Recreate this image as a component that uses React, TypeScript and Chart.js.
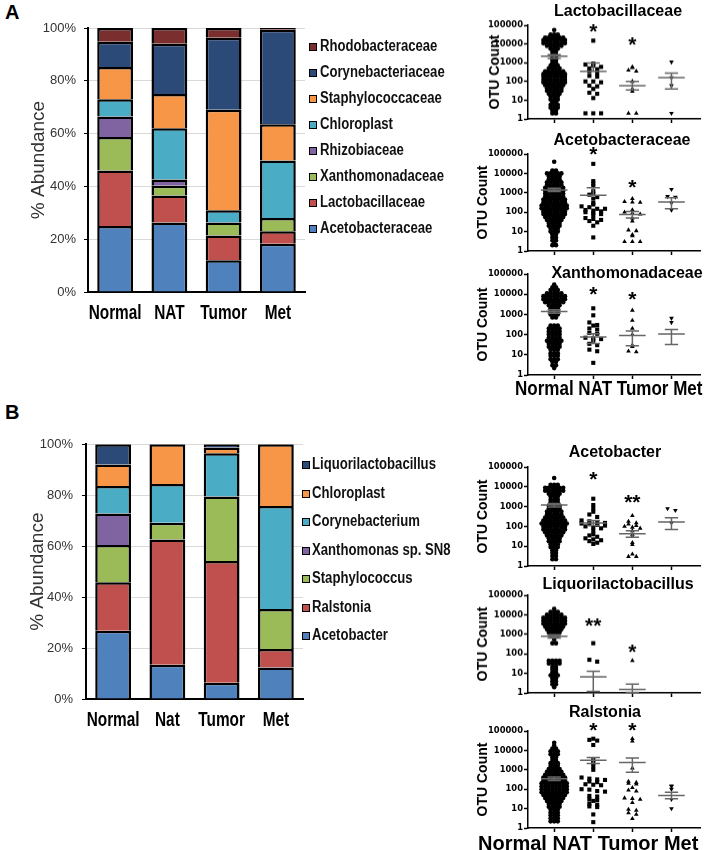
import React, { useEffect, useRef } from 'react';
import { Chart, registerables } from 'chart.js';
Chart.register(...registerables);

const SANS = 'Arial, "Liberation Sans", Helvetica, sans-serif';
const WIDE = '"DejaVu Sans", Verdana, sans-serif';
const CONDENSE = 0.82;

// ---------------- Panel A: stacked bars (family level) ----------------
const A_CATEGORIES = ['Normal', 'NAT', 'Tumor', 'Met'];
const A_SERIES = ['Acetobacteraceae', 'Lactobacillaceae', 'Xanthomonadaceae', 'Rhizobiaceae', 'Chloroplast', 'Staphylococcaceae', 'Corynebacteriaceae', 'Rhodobacteraceae'];
const A_ACETOBACTERACEAE = [25, 26.3, 12, 18.3];
const A_LACTOBACILLACEAE = [21, 10.3, 9.4, 4.7];
const A_XANTHOMONADACEAE = [12.7, 3.6, 4.9, 5];
const A_RHIZOBIACEAE = [7.8, 2.4, 0, 0];
const A_CHLOROPLAST = [6.5, 19.4, 4.7, 21.8];
const A_STAPHYLOCOCCACEAE = [12.2, 13, 38, 13.7];
const A_CORYNEBACTERIACEAE = [9.6, 19, 27.3, 35.8];
const A_RHODOBACTERACEAE = [5.2, 6, 3.7, 0.7];
const A_COLORS = ['#4F81BD', '#C0504D', '#9BBB59', '#8064A2', '#4BACC6', '#F79646', '#2B4A78', '#7A2E2E'];

// ---------------- Panel B: stacked bars (genus level) ----------------
const B_CATEGORIES = ['Normal', 'Nat', 'Tumor', 'Met'];
const B_SERIES = ['Acetobacter', 'Ralstonia', 'Staphylococcus', 'Xanthomonas sp. SN8', 'Corynebacterium', 'Chloroplast', 'Liquorilactobacillus'];
const B_ACETOBACTER = [26.8, 13.4, 6.4, 12.4];
const B_RALSTONIA = [19, 49.2, 47.8, 7.2];
const B_STAPHYLOCOCCUS = [14.7, 6.6, 25.3, 15.7];
const B_XANTHOMONAS = [12.3, 0, 0, 0];
const B_CORYNEBACTERIUM = [10.8, 15.2, 17, 40.5];
const B_CHLOROPLAST = [8.5, 15.6, 2.2, 24.2];
const B_LIQUORILACTOBACILLUS = [7.9, 0, 1.3, 0];
const B_COLORS = ['#4F81BD', '#C0504D', '#9BBB59', '#8064A2', '#4BACC6', '#F79646', '#2B4A78'];

// ---------------- Dot plots (OTU counts) ----------------
const DOT_CATEGORIES = ['Normal', 'NAT', 'Tumor', 'Met'];
const Y_TICKS = [1, 10, 100, 1000, 10000, 100000];

// Normal groups as [value, number of samples at that level]
const A1_NORMAL: [number, number][] = [[56000,1],[32000,3],[22000,6],[16000,7],[11000,7],[8000,5],[5600,3],[4000,2],[2800,2],[2000,2],[1400,2],[1000,2],[700,3],[500,4],[350,6],[250,7],[180,7],[125,7],[90,7],[63,6],[45,5],[32,5],[22,4],[16,3],[11,3],[8,2],[5.6,3],[4,3],[2.8,2],[2,2]];
const A1_NAT = [15000, 900, 800, 700, 600, 500, 450, 350, 300, 200, 180, 100, 100, 90, 60, 55, 40, 25, 22, 13, 2, 2, 2];
const A1_TUMOR = [600, 550, 400, 350, 100, 40, 30, 2, 2];
const A1_MET = [1100, 160, 60, 2];
const A1_MEAN = [2200, 350, 60, 160];
const A1_HI = [2700, 950, 100, 280];
const A1_LO = [1700, null, 35, 40];
const A1_STARS = ['', '*', '*', ''];
const A1_STAR_AT = [0, 69000, 15000, 0];

const A2_NORMAL: [number, number][] = [[40000,1],[14000,2],[10000,5],[7000,4],[5000,4],[3500,5],[2500,5],[1800,6],[1250,6],[900,6],[630,6],[450,7],[320,7],[220,8],[160,8],[110,7],[80,7],[56,6],[40,5],[28,4],[20,4],[14,3],[10,3],[7,2],[5,2],[3.5,2],[2.5,1],[2,2]];
const A2_NAT = [31000, 4000, 3000, 2200, 1200, 900, 800, 600, 500, 300, 250, 200, 180, 150, 150, 130, 120, 110, 100, 90, 80, 70, 50, 45, 40, 35, 30, 20, 5];
const A2_TUMOR = [500, 350, 330, 320, 130, 100, 90, 80, 50, 35, 12, 11, 7, 6, 3, 3, 3];
const A2_MET = [1500, 650, 600, 300, 130];
const A2_MEAN = [1400, 750, 75, 340];
const A2_HI = [1700, 1800, 110, 550];
const A2_LO = [1150, null, 50, 150];
const A2_STARS = ['', '*', '*', ''];
const A2_STAR_AT = [0, 150000, 3100, 0];

const A3_NORMAL: [number, number][] = [[30000,1],[22000,2],[16000,3],[11000,5],[8000,7],[5600,7],[4000,6],[2800,4],[2000,3],[1400,3],[1000,3],[700,2],[280,3],[200,4],[140,4],[100,4],[70,4],[50,5],[35,4],[25,4],[18,3],[12,3],[9,3],[6,3],[4.5,2],[3,2],[2.2,1]];
const A3_NAT = [2000, 900, 400, 300, 280, 200, 180, 120, 110, 70, 65, 60, 50, 35, 30, 18, 15, 4];
const A3_TUMOR = [1600, 500, 200, 100, 30, 25, 15, 14];
const A3_MET = [650, 400];
const A3_MEAN = [1400, 75, 90, 107];
const A3_HI = [1700, 110, 150, 180];
const A3_LO = [1150, 36, 28, 32];
const A3_STARS = ['', '*', '*', ''];
const A3_STAR_AT = [0, 15000, 9000, 0];

const B1_NORMAL: [number, number][] = [[28000,1],[12500,3],[9000,6],[6300,6],[4500,4],[3200,3],[2200,3],[1600,3],[1100,4],[800,4],[560,5],[400,5],[280,6],[200,7],[140,8],[100,7],[70,7],[50,6],[35,5],[25,4],[18,4],[12.5,3],[9,3],[6.3,2],[4.5,2],[3.2,2],[2.2,2]];
const B1_NAT = [2500, 1200, 800, 550, 400, 300, 200, 180, 160, 150, 140, 130, 120, 110, 100, 90, 80, 60, 40, 35, 30, 25, 22, 20, 18, 15, 13];
const B1_TUMOR = [350, 180, 150, 130, 110, 100, 90, 80, 60, 40, 30, 15, 12, 4, 3, 3];
const B1_MET = [800, 650, 150];
const B1_MEAN = [1200, 150, 42, 165];
const B1_HI = [1450, 200, 60, 270];
const B1_LO = [950, 110, 28, 70];
const B1_STARS = ['', '*', '**', ''];
const B1_STAR_AT = [0, 38000, 2500, 0];

const B2_NORMAL: [number, number][] = [[20000,1],[14000,3],[10000,5],[7000,7],[5000,7],[3500,7],[2500,6],[1800,5],[1250,4],[900,3],[560,1],[350,2],[45,4],[32,4],[22,2],[16,2],[11,2],[8,3],[5.6,2],[4,2],[2.8,2],[2,1]];
const B2_NAT = [350, 50, 40];
const B2_TUMOR = [45];
const B2_MET: number[] = [];
const B2_MEAN = [800, 6.6, 1.5, null];
const B2_HI = [950, 13, 2.8, null];
const B2_LO = [650, 1.2, 1.05, null];
const B2_STARS = ['', '**', '*', ''];
const B2_STAR_AT = [0, 4300, 190, 0];

const B3_NORMAL: [number, number][] = [[25000,1],[18000,1],[12500,2],[9000,3],[6300,3],[4500,2],[3200,2],[2200,3],[1600,3],[1100,4],[800,5],[560,6],[400,7],[280,7],[200,8],[140,8],[100,8],[70,8],[50,7],[35,6],[25,5],[18,4],[12.5,4],[9,3],[6.3,3],[4.5,3],[3.2,3],[2.2,3]];
const B3_NAT = [40000, 35000, 32000, 19000, 3200, 2200, 1500, 1000, 400, 350, 320, 300, 250, 230, 180, 170, 160, 100, 95, 80, 75, 45, 42, 30, 28, 25, 18, 16, 13, 12, 5, 2];
const B3_TUMOR = [40000, 30000, 1200, 250, 220, 200, 180, 120, 90, 80, 35, 33, 30, 20, 9, 8, 6, 5, 3];
const B3_MET = [150, 140, 100, 30, 10];
const B3_MEAN = [350, 3100, 2350, 47];
const B3_HI = [420, 4300, 4000, 70];
const B3_LO = [280, 2100, 750, 32];
const B3_STARS = ['', '*', '*', ''];
const B3_STAR_AT = [0, 170000, 170000, 0];

type Plot = {
  title: string; normal: [number, number][]; nat: number[]; tumor: number[]; met: number[];
  mean: (number | null)[]; hi: (number | null)[]; lo: (number | null)[]; stars: string[]; starAt: number[];
  top: number; bottom: number; tx: number; ty: number; yTitleX: number;
};

const DOT_PLOTS: Plot[] = [
  { title: 'Lactobacillaceae', normal: A1_NORMAL, nat: A1_NAT, tumor: A1_TUMOR, met: A1_MET, mean: A1_MEAN, hi: A1_HI, lo: A1_LO, stars: A1_STARS, starAt: A1_STAR_AT, top: 25.3, bottom: 118.7, tx: 618, ty: 11, yTitleX: 495 },
  { title: 'Acetobacteraceae', normal: A2_NORMAL, nat: A2_NAT, tumor: A2_TUMOR, met: A2_MET, mean: A2_MEAN, hi: A2_HI, lo: A2_LO, stars: A2_STARS, starAt: A2_STAR_AT, top: 154, bottom: 251, tx: 622, ty: 140, yTitleX: 483 },
  { title: 'Xanthomonadaceae', normal: A3_NORMAL, nat: A3_NAT, tumor: A3_TUMOR, met: A3_MET, mean: A3_MEAN, hi: A3_HI, lo: A3_LO, stars: A3_STARS, starAt: A3_STAR_AT, top: 274, bottom: 375, tx: 627, ty: 273, yTitleX: 483 },
  { title: 'Acetobacter', normal: B1_NORMAL, nat: B1_NAT, tumor: B1_TUMOR, met: B1_MET, mean: B1_MEAN, hi: B1_HI, lo: B1_LO, stars: B1_STARS, starAt: B1_STAR_AT, top: 466.7, bottom: 565.7, tx: 615, ty: 452, yTitleX: 483 },
  { title: 'Liquorilactobacillus', normal: B2_NORMAL, nat: B2_NAT, tumor: B2_TUMOR, met: B2_MET, mean: B2_MEAN, hi: B2_HI, lo: B2_LO, stars: B2_STARS, starAt: B2_STAR_AT, top: 595, bottom: 692.7, tx: 618, ty: 584, yTitleX: 483 },
  { title: 'Ralstonia', normal: B3_NORMAL, nat: B3_NAT, tumor: B3_TUMOR, met: B3_MET, mean: B3_MEAN, hi: B3_HI, lo: B3_LO, stars: B3_STARS, starAt: B3_STAR_AT, top: 731, bottom: 828.3, tx: 605, ty: 712, yTitleX: 483 },
];

// ---------- layout helpers (dot-plot spreading, deterministic) ----------
function rowPoints(pairs: [number, number][], cat: number, dx: number) {
  const pts: { x: number; y: number }[] = [];
  for (const [v, n] of pairs) for (let k = 0; k < n; k++) pts.push({ x: cat + (k - (n - 1) / 2) * dx, y: v });
  return pts;
}
function binPoints(values: number[], cat: number, bin: number, dx: number) {
  const groups = new Map<number, number[]>();
  values.forEach((v) => {
    const b = Math.round(Math.log10(v) / bin);
    if (!groups.has(b)) groups.set(b, []);
    groups.get(b)!.push(v);
  });
  const pts: { x: number; y: number }[] = [];
  groups.forEach((vs) => vs.forEach((v, k) => pts.push({ x: cat + (k - (vs.length - 1) / 2) * dx, y: v })));
  return pts;
}

type BarProps = {
  box: { left: number; top: number; width: number; height: number };
  area: { left: number; right: number; top: number; bottom: number };
  categories: string[]; series: string[]; values: number[][]; colors: string[];
  yTitleX: number; tickRight: number; labelY: number;
};

function StackedBar(p: BarProps) {
  const ref = useRef<HTMLCanvasElement>(null);
  useEffect(() => {
    const padL = p.yTitleX - p.box.left - (19 * 1.2) / 2;
    const yW = p.area.left - p.box.left - padL;
    const xH = p.box.top + p.box.height - p.area.bottom;
    // condensed category labels drawn at the x scale's tick positions
    const catLabels = {
      id: 'catLabels',
      afterDraw(chart: any) {
        const { ctx } = chart;
        const xs = chart.scales.x;
        ctx.save();
        ctx.fillStyle = '#000';
        ctx.font = 'bold 20.5px ' + SANS;
        ctx.textAlign = 'center';
        ctx.textBaseline = 'middle';
        p.categories.forEach((c, i) => {
          ctx.save();
          ctx.translate(xs.getPixelForTick(i), p.labelY - p.box.top);
          ctx.scale(0.75, 1);
          ctx.fillText(c, 0, 0);
          ctx.restore();
        });
        ctx.restore();
      },
    };
    const chart = new Chart(ref.current!, {
      type: 'bar',
      data: {
        labels: p.categories,
        datasets: p.series.map((s, k) => ({
          label: s,
          data: p.values[k].map((v) => (v > 0 ? v : null)),
          backgroundColor: p.colors[k],
          borderColor: '#000',
          borderWidth: 2.5,
          barPercentage: 0.66,
          categoryPercentage: 1,
        })),
      },
      options: {
        animation: false,
        responsive: false,
        events: [],
        layout: { padding: { left: padL, right: p.box.left + p.box.width - p.area.right, top: p.area.top - p.box.top, bottom: 0 } },
        plugins: { legend: { display: false }, tooltip: { enabled: false } },
        scales: {
          x: {
            stacked: true,
            grid: { display: false },
            border: { display: true, color: '#000', width: 2 },
            ticks: { display: false },
            afterFit: (s: any) => { s.height = xH; },
          },
          y: {
            stacked: true, min: 0, max: 100,
            ticks: { stepSize: 20, callback: (v: any) => v + '%', color: '#333', font: { family: SANS, size: 13 }, padding: p.area.left - 4 - p.tickRight },
            grid: { color: '#d9d9d9', lineWidth: 1, tickColor: '#000', tickLength: 4 },
            border: { display: true, color: '#000', width: 2 },
            title: { display: true, text: '% Abundance', color: '#333', font: { family: SANS, size: 19 }, padding: 0 },
            afterFit: (s: any) => { s.width = yW; },
          },
        },
      } as any,
      plugins: [catLabels],
    });
    return () => chart.destroy();
  }, []);
  return <canvas ref={ref} width={p.box.width} height={p.box.height} style={{ position: 'absolute', left: p.box.left, top: p.box.top, width: p.box.width, height: p.box.height }} />;
}

const SC_LEFT = 440;
const SC_WIDTH = 268;
const AXIS_X = 528;
const AXIS_RIGHT = 700;

function DotPlot({ plot }: { plot: Plot }) {
  const ref = useRef<HTMLCanvasElement>(null);
  const padT = 24;
  const height = plot.bottom - plot.top + 32;
  useEffect(() => {
    const padL = plot.yTitleX - SC_LEFT - (14 * 1.2) / 2;
    const yW = AXIS_X - SC_LEFT - padL;
    const summary = {
      id: 'summary',
      afterDatasetsDraw(chart: any) {
        const { ctx } = chart;
        const x = chart.scales.x, y = chart.scales.y;
        const unit = x.getPixelForValue(1) - x.getPixelForValue(0);
        ctx.save();
        ctx.strokeStyle = '#666';
        ctx.lineWidth = 1.5;
        for (let i = 0; i < 4; i++) {
          const m = plot.mean[i];
          if (m == null) continue;
          const cx = x.getPixelForValue(i);
          const ym = y.getPixelForValue(m);
          const half = unit * 0.34, cap = unit * 0.17;
          const h = plot.hi[i], l = plot.lo[i];
          const yh = h != null ? y.getPixelForValue(h) : ym;
          const yl = l != null ? y.getPixelForValue(l) : ym;
          ctx.beginPath();
          ctx.moveTo(cx - half, ym); ctx.lineTo(cx + half, ym);
          ctx.moveTo(cx, yh); ctx.lineTo(cx, yl);
          if (h != null) { ctx.moveTo(cx - cap, yh); ctx.lineTo(cx + cap, yh); }
          if (l != null) { ctx.moveTo(cx - cap, yl); ctx.lineTo(cx + cap, yl); }
          ctx.stroke();
        }
        ctx.fillStyle = '#000';
        ctx.font = 'bold 21px ' + SANS;
        ctx.textAlign = 'center';
        ctx.textBaseline = 'middle';
        for (let i = 0; i < 4; i++) {
          if (!plot.stars[i]) continue;
          ctx.fillText(plot.stars[i], x.getPixelForValue(i), y.getPixelForValue(plot.starAt[i]) + 21 * 0.22);
        }
        ctx.restore();
      },
    };
    const base = { backgroundColor: '#000', borderColor: '#000', borderWidth: 0, pointBorderWidth: 0 };
    const chart = new Chart(ref.current!, {
      type: 'scatter',
      data: {
        datasets: [
          { ...base, data: rowPoints(plot.normal, 0, 0.092), pointStyle: 'circle', pointRadius: 2.3 },
          { ...base, data: binPoints(plot.nat, 1, 0.15, 0.2), pointStyle: 'rect', pointRadius: 2.9 },
          { ...base, data: binPoints(plot.tumor, 2, 0.15, 0.2), pointStyle: 'triangle', pointRadius: 2.7 },
          { ...base, data: binPoints(plot.met, 3, 0.15, 0.2), pointStyle: 'triangle', pointRotation: 180, pointRadius: 2.7 },
        ],
      },
      options: {
        animation: false,
        responsive: false,
        events: [],
        layout: { padding: { left: padL, right: SC_LEFT + SC_WIDTH - AXIS_RIGHT, top: padT, bottom: 2 } },
        plugins: { legend: { display: false }, tooltip: { enabled: false } },
        scales: {
          x: {
            type: 'linear', min: -0.67, max: 3.73,
            afterBuildTicks: (s: any) => { s.ticks = [0, 1, 2, 3].map((v) => ({ value: v })); },
            ticks: { display: false },
            grid: { display: true, drawOnChartArea: false, drawTicks: true, tickLength: 4, tickColor: '#000', tickWidth: 1.5 },
            border: { display: true, color: '#000', width: 1.5 },
            afterFit: (s: any) => { s.height = 6; },
          },
          y: {
            type: 'logarithmic', min: 1, max: 100000,
            afterBuildTicks: (s: any) => { s.ticks = Y_TICKS.map((v) => ({ value: v })); },
            ticks: { callback: (v: any) => String(v), color: '#000', font: { family: WIDE, size: 8.4, weight: 'bold' }, padding: 1, autoSkip: false },
            grid: { display: true, drawOnChartArea: false, drawTicks: true, tickLength: 4, tickColor: '#000', tickWidth: 1.5 },
            border: { display: true, color: '#000', width: 1.5 },
            title: { display: true, text: 'OTU Count', color: '#000', font: { family: SANS, size: 14, weight: 'bold' }, padding: 0 },
            afterFit: (s: any) => { s.width = yW; },
          },
        },
      } as any,
      plugins: [summary],
    });
    return () => chart.destroy();
  }, []);
  return (
    <>
      <canvas ref={ref} width={SC_WIDTH} height={height} style={{ position: 'absolute', left: SC_LEFT, top: plot.top - padT, width: SC_WIDTH, height }} />
      <div style={{ position: 'absolute', left: plot.tx, top: plot.ty, transform: 'translate(-50%, -50%)', font: 'bold 16px ' + SANS, whiteSpace: 'nowrap', color: '#000', lineHeight: '18px' }}>{plot.title}</div>
    </>
  );
}

function Legend({ items, colors, boxLeft, textLeft, firstY, step }: { items: string[]; colors: string[]; boxLeft: number; textLeft: number; firstY: number; step: number }) {
  return (
    <>
      {items.map((name, i) => (
        <React.Fragment key={name}>
          <div style={{ position: 'absolute', left: boxLeft, top: firstY + i * step - 4, width: 8, height: 8, boxSizing: 'border-box', border: '1.5px solid #000', background: colors[i] }} />
          <div style={{ position: 'absolute', left: textLeft, top: firstY + i * step - 10, height: 20, lineHeight: '20px', font: 'bold 16px ' + SANS, color: '#111', whiteSpace: 'nowrap', transform: `scaleX(${CONDENSE})`, transformOrigin: 'left center' }}>{name}</div>
        </React.Fragment>
      ))}
    </>
  );
}

export default function App() {
  const aValues = [A_ACETOBACTERACEAE, A_LACTOBACILLACEAE, A_XANTHOMONADACEAE, A_RHIZOBIACEAE, A_CHLOROPLAST, A_STAPHYLOCOCCACEAE, A_CORYNEBACTERIACEAE, A_RHODOBACTERACEAE];
  const bValues = [B_ACETOBACTER, B_RALSTONIA, B_STAPHYLOCOCCUS, B_XANTHOMONAS, B_CORYNEBACTERIUM, B_CHLOROPLAST, B_LIQUORILACTOBACILLUS];
  return (
    <div style={{ position: 'absolute', left: 0, top: 0, width: 708, height: 850, background: '#fff', overflow: 'hidden', fontFamily: SANS }}>
      <div style={{ position: 'absolute', left: 5, top: 1, font: 'bold 20px ' + SANS }}>A</div>
      <div style={{ position: 'absolute', left: 5, top: 401, font: 'bold 20px ' + SANS }}>B</div>
      <StackedBar box={{ left: 0, top: 0, width: 310, height: 340 }} area={{ left: 88, right: 305, top: 28, bottom: 292 }} categories={A_CATEGORIES} series={A_SERIES} values={aValues} colors={A_COLORS} yTitleX={39} tickRight={76} labelY={313} />
      <Legend items={[...A_SERIES].reverse()} colors={[...A_COLORS].reverse()} boxLeft={309} textLeft={320} firstY={47.3} step={26} />
      <StackedBar box={{ left: 0, top: 405, width: 310, height: 340 }} area={{ left: 86, right: 303, top: 444.3, bottom: 699 }} categories={B_CATEGORIES} series={B_SERIES} values={bValues} colors={B_COLORS} yTitleX={37.5} tickRight={73} labelY={720} />
      <Legend items={[...B_SERIES].reverse()} colors={[...B_COLORS].reverse()} boxLeft={302} textLeft={312} firstY={465} step={28.5} />
      {DOT_PLOTS.map((pl) => <DotPlot key={pl.title} plot={pl} />)}
      <div style={{ position: 'absolute', left: 515, top: 389 - 13, height: 26, lineHeight: '26px', font: 'bold 20.5px ' + SANS, whiteSpace: 'pre', color: '#000', transform: 'scaleX(0.83)', transformOrigin: 'left center' }}>{DOT_CATEGORIES.join(' ')}</div>
      <div style={{ position: 'absolute', left: 478, top: 845 - 13, height: 26, lineHeight: '26px', font: 'bold 20px ' + SANS, whiteSpace: 'pre', color: '#000' }}>{DOT_CATEGORIES.join(' ')}</div>
    </div>
  );
}
